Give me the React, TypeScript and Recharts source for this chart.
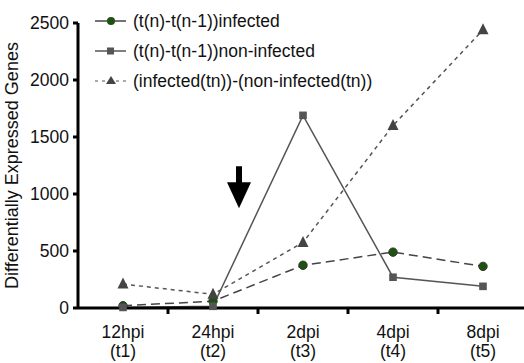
import React from 'react';
import { LineChart, Line, XAxis, YAxis, Legend, ReferenceDot } from 'recharts';

const categories = ['12hpi', '24hpi', '2dpi', '4dpi', '8dpi'];
const timepoints = ['(t1)', '(t2)', '(t3)', '(t4)', '(t5)'];
const infected = [20, 60, 375, 490, 365];
const nonInfected = [5, 15, 1690, 270, 190];
const difference = [210, 120, 575, 1600, 2440];
const yTicks = [0, 500, 1000, 1500, 2000, 2500];
const seriesNames = [
  '(t(n)-t(n-1))infected',
  '(t(n)-t(n-1))non-infected',
  '(infected(tn))-(non-infected(tn))',
];
const arrowAt = { category: '24hpi', value: 875 };

const data = categories.map((c, i) => ({
  cat: c,
  tp: timepoints[i],
  infected: infected[i],
  nonInfected: nonInfected[i],
  difference: difference[i],
}));

const FONT = '"Liberation Sans", Arial, Helvetica, sans-serif';
const W = 530;
const H = 363;

const Circle = (p: any) => {
  if (p.cx == null || p.cy == null) return null;
  return <circle cx={p.cx} cy={p.cy} r={4.2} fill="#1f5212" stroke="#2b3a22" strokeWidth={1} />;
};
const Square = (p: any) => {
  if (p.cx == null || p.cy == null) return null;
  return <rect x={p.cx - 3.8} y={p.cy - 3.8} width={7.6} height={7.6} fill="#555" />;
};
const Tri = (p: any) => {
  if (p.cx == null || p.cy == null) return null;
  const s = 5.5;
  return (
    <path
      d={`M${p.cx},${p.cy - s - 1} L${p.cx + s},${p.cy + s - 1} L${p.cx - s},${p.cy + s - 1} Z`}
      fill="#444"
    />
  );
};

const XTick = (props: any) => {
  const { x, y, payload, index } = props;
  const half = payload && payload.offset ? payload.offset : 45;
  return (
    <g>
      {index < categories.length - 1 && (
        <line x1={x + half} y1={y} x2={x + half} y2={y + 6} stroke="#000" strokeWidth={3} />
      )}
      <text x={x} y={y + 30} textAnchor="middle" fontSize={17.5} fontFamily={FONT} fill="#111">
        {payload.value}
      </text>
      <text x={x} y={y + 49} textAnchor="middle" fontSize={17.5} fontFamily={FONT} fill="#111">
        {timepoints[index]}
      </text>
    </g>
  );
};

const YLabel = (props: any) => {
  const vb = props.viewBox || { x: 0, y: 23, width: 78, height: 285 };
  const cx = vb.x + 18;
  const cy = vb.y + vb.height / 2;
  return (
    <text
      x={cx}
      y={cy}
      textAnchor="middle"
      transform={`rotate(-90, ${cx}, ${cy})`}
      fontSize={18}
      fontFamily={FONT}
      fill="#111"
    >
      Differentially Expressed Genes
    </text>
  );
};

const LegendContent = () => {
  const rows = [0, 1, 2];
  return (
    <svg width={360} height={92} style={{ display: 'block' }}>
      {rows.map((i) => {
        const y = 15 + i * 30;
        return (
          <g key={i}>
            {i === 0 && (
              <>
                <line x1={5} y1={y} x2={36} y2={y} stroke="#444" strokeWidth={1.5} />
                <circle cx={21} cy={y} r={4} fill="#1f5212" />
              </>
            )}
            {i === 1 && (
              <>
                <line x1={5} y1={y} x2={36} y2={y} stroke="#555" strokeWidth={1.5} />
                <rect x={17} y={y - 3.5} width={7} height={7} fill="#555" />
              </>
            )}
            {i === 2 && (
              <>
                <line x1={5} y1={y} x2={36} y2={y} stroke="#555" strokeWidth={1.2} strokeDasharray="3 4" />
                <path d={`M21,${y - 5} L26,${y + 3} L16,${y + 3} Z`} fill="#444" />
              </>
            )}
            <text x={43} y={y + 6} fontSize={17.5} fontFamily={FONT} fill="#111">
              {seriesNames[i]}
            </text>
          </g>
        );
      })}
    </svg>
  );
};

const Arrow = (p: any) => {
  if (p.cx == null || p.cy == null) return null;
  const x = p.cx + 26;
  const tip = p.cy;
  return (
    <g>
      <rect x={x - 3} y={tip - 42} width={6} height={18} fill="#000" />
      <path d={`M${x - 12},${tip - 26} L${x + 12},${tip - 26} L${x},${tip} Z`} fill="#000" />
    </g>
  );
};

export default function App() {
  return (
    <div style={{ position: 'absolute', left: 0, top: 0, width: 524, height: 363, overflow: 'hidden', background: '#fff' }}>
      <LineChart width={W} height={H} data={data} margin={{ top: 23, right: 2, bottom: 0, left: 0 }}>
        <XAxis
          dataKey="cat"
          scale="band"
          height={55}
          axisLine={{ stroke: '#000', strokeWidth: 3 }}
          tickLine={false}
          tickSize={0}
          tickMargin={0}
          tick={<XTick />}
          interval={0}
        />
        <YAxis
          width={78}
          domain={[0, 2500]}
          ticks={yTicks}
          axisLine={{ stroke: '#000', strokeWidth: 3 }}
          tickLine={{ stroke: '#000', strokeWidth: 3 }}
          tickSize={5}
          tickMargin={4}
          tick={{ fontSize: 17.5, fontFamily: FONT, fill: '#111' }}
          label={<YLabel />}
        />
        <Legend
          layout="vertical"
          align="center"
          verticalAlign="middle"
          wrapperStyle={{ top: 6, left: 90, width: 360, height: 92 }}
          content={<LegendContent />}
        />
        <Line
          dataKey="infected"
          name={seriesNames[0]}
          stroke="#444"
          strokeWidth={1.5}
          strokeDasharray="9 5"
          dot={<Circle />}
          isAnimationActive={false}
        />
        <Line
          dataKey="nonInfected"
          name={seriesNames[1]}
          stroke="#555"
          strokeWidth={1.5}
          dot={<Square />}
          isAnimationActive={false}
        />
        <Line
          dataKey="difference"
          name={seriesNames[2]}
          stroke="#555"
          strokeWidth={1.5}
          strokeDasharray="4 4"
          dot={<Tri />}
          isAnimationActive={false}
        />
        <ReferenceDot x={arrowAt.category} y={arrowAt.value} shape={<Arrow />} ifOverflow="visible" />
      </LineChart>
    </div>
  );
}
